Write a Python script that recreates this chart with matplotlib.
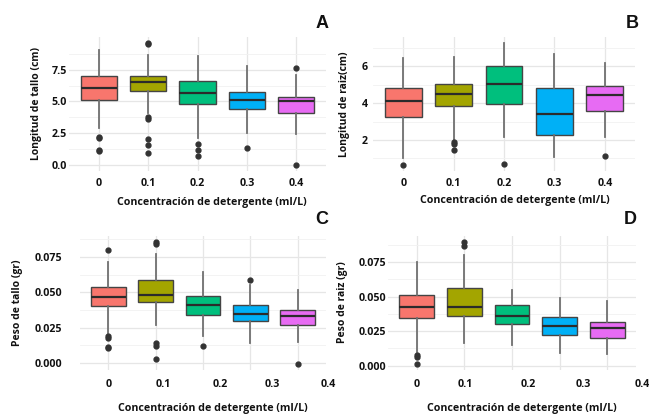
import matplotlib
matplotlib.use("Agg")
import matplotlib.pyplot as plt
import matplotlib.transforms as mtransforms

W, H = 649, 416

groups = ["0", "0.1", "0.2", "0.3", "0.4"]
colors = ["#F8766D", "#A3A500", "#00BF7D", "#00B0F6", "#E76BF3"]

# box stats per group: (whislo, q1, med, q3, whishi), outliers
tallo_len = [(2.9, 5.13, 6.1, 6.97, 9.07), (4.08, 5.84, 6.53, 7.02, 8.68),
             (2.1, 4.79, 5.63, 6.63, 8.55), (2.55, 4.4, 5.08, 5.74, 7.81),
             (2.45, 4.08, 5.0, 5.34, 7.1)]
tallo_len_out = [[2.23, 2.15, 1.18, 1.1], [9.6, 9.52, 3.76, 3.58, 2.03, 1.53, 0.92],
                 [1.66, 1.18, 0.74], [1.31], [7.6, 0.0]]

raiz_len = [(1.04, 3.24, 4.13, 4.82, 6.45), (2.0, 3.82, 4.51, 5.02, 6.51),
            (2.18, 3.93, 5.07, 6.0, 7.27), (1.09, 2.27, 3.4, 4.82, 6.69),
            (2.18, 3.55, 4.45, 4.96, 6.18)]
raiz_len_out = [[0.64], [1.91, 1.78, 1.45], [0.69], [], [1.15]]

tallo_peso = [(0.0211, 0.0405, 0.0469, 0.0539, 0.0715), (0.0269, 0.0429, 0.0485, 0.0586, 0.0773),
              (0.0195, 0.034, 0.0412, 0.0476, 0.0644), (0.0141, 0.030, 0.0347, 0.041, 0.0551),
              (0.0152, 0.0269, 0.033, 0.0375, 0.052)]
tallo_peso_out = [[0.0797, 0.0192, 0.0176, 0.0117, 0.0105], [0.0855, 0.0839, 0.0141, 0.0124, 0.0028],
                  [0.0122], [0.0586], [-0.0005]]

raiz_peso = [(0.0101, 0.0341, 0.0425, 0.0514, 0.075), (0.0166, 0.0358, 0.0425, 0.0558, 0.0798),
             (0.0149, 0.0298, 0.0361, 0.0438, 0.055), (0.0089, 0.0221, 0.0288, 0.0349, 0.049),
             (0.0084, 0.0197, 0.0274, 0.0313, 0.0466)]
raiz_peso_out = [[0.0077, 0.006, 0.0012], [0.0894, 0.0865], [], [], []]

xlab = "Concentración de detergente (ml/L)"
FONT = "Open Sans"


def px(x0, y0, x1, y1):
    return [x0 / W, 1 - y1 / H, (x1 - x0) / W, (y1 - y0) / H]


def draw_panel(ax, stats, outs, ylim, yticks, yminor, ylabels):
    bx = []
    for s, o in zip(stats, outs):
        bx.append(dict(whislo=s[0], q1=s[1], med=s[2], q3=s[3], whishi=s[4], fliers=o))
    pos = list(range(len(stats)))
    res = ax.bxp(bx, positions=pos, widths=0.73, patch_artist=True, showcaps=False,
                 boxprops=dict(edgecolor="#444444", linewidth=1.0),
                 medianprops=dict(color="#2b2b2b", linewidth=1.6),
                 whiskerprops=dict(color="#707070", linewidth=1.3),
                 flierprops=dict(marker="o", markersize=3.5, markerfacecolor="#333333",
                                 markeredgecolor="#333333"))
    for patch, c in zip(res["boxes"], colors):
        patch.set_facecolor(c)
        patch.set_zorder(3)
    for k in ["medians", "whiskers", "fliers"]:
        for a in res[k]:
            a.set_zorder(3 if k != "medians" else 4)
    ax.set_xlim(-0.6, 4.6)
    ax.set_ylim(*ylim)
    ax.set_yticks(yticks)
    ax.set_yticklabels(ylabels)
    ax.set_yticks(yminor, minor=True)
    ax.set_xticks(pos)
    ax.grid(True, which="major", color="#e6e6e6", linewidth=0.9, zorder=0)
    ax.grid(True, which="minor", axis="y", color="#f1f1f1", linewidth=0.6, zorder=0)
    ax.set_axisbelow(True)
    for sp in ax.spines.values():
        sp.set_visible(False)
    ax.tick_params(length=0, which="both", labelsize=7.7)
    for t in ax.get_yticklabels() + ax.get_xticklabels():
        t.set_fontfamily(FONT)
        t.set_fontweight("bold")
        t.set_color("#111111")


fig = plt.figure(figsize=(W / 100, H / 100), dpi=100)

axA = fig.add_axes(px(69, 37, 326, 171))
draw_panel(axA, tallo_len, tallo_len_out, (-0.48, 10.08), [0, 2.5, 5, 7.5],
           [1.25, 3.75, 6.25, 8.75], ["0.0", "2.5", "5.0", "7.5"])
axA.set_xticklabels(groups)
axA.tick_params(axis="y", pad=1.5)
axA.tick_params(axis="x", pad=5)

axB = fig.add_axes(px(373, 37, 635, 171))
draw_panel(axB, raiz_len, raiz_len_out, (0.31, 7.6), [2, 4, 6], [1, 3, 5, 7], ["2", "4", "6"])
axB.set_xticklabels(groups)
axB.tick_params(axis="y", pad=4)
axB.tick_params(axis="x", pad=5)

axC = fig.add_axes(px(80, 236, 326, 370))
draw_panel(axC, tallo_peso, tallo_peso_out, (-0.0048, 0.0898), [0, 0.025, 0.05, 0.075],
           [0.0125, 0.0375, 0.0625, 0.0875], ["0.000", "0.025", "0.050", "0.075"])
axC.set_xticklabels([])
axC.tick_params(axis="y", pad=13)

axD = fig.add_axes(px(388, 236, 636, 370))
draw_panel(axD, raiz_peso, raiz_peso_out, (-0.0032, 0.0938), [0, 0.025, 0.05, 0.075],
           [0.0125, 0.0375, 0.0625, 0.0875], ["0.000", "0.025", "0.050", "0.075"])
axD.set_xticklabels([])
axD.tick_params(axis="y", pad=1.5)

# shifted tick labels on the bottom panels
c_label_pos = [0, 1.16, 2.37, 3.47, 4.65]
d_label_pos = [0, 1.03, 2.34, 3.49, 4.74]
for ax, lp in [(axC, c_label_pos), (axD, d_label_pos)]:
    tr = mtransforms.blended_transform_factory(ax.transData, ax.transAxes)
    for p, g in zip(lp, groups):
        ax.text(p, -0.11, g, transform=tr, ha="center", va="center", fontsize=7.7,
                fontfamily=FONT, fontweight="bold", color="#111111", clip_on=False)


def ftext(x, y, s, **kw):
    fig.text(x / W, 1 - y / H, s, ha="center", va="center", fontfamily=FONT,
             fontweight="bold", color="#111111", **kw)


ftext(212, 202, xlab, fontsize=7.7)
ftext(515, 201, xlab, fontsize=7.7)
ftext(213, 408, xlab, fontsize=7.7)
ftext(522, 409, xlab, fontsize=7.7)

ftext(37, 104, "Longitud de tallo (cm)", fontsize=7.5, rotation=90)
ftext(345, 104, "Longitud de raiz(cm)", fontsize=7.5, rotation=90)
ftext(18, 303, "Peso de tallo (gr)", fontsize=7.5, rotation=90)
ftext(342, 302, "Peso de raiz (gr)", fontsize=7.5, rotation=90)

for x, y, s in [(322, 23, "A"), (632, 23, "B"), (322, 219, "C"), (630, 220, "D")]:
    fig.text(x / W, 1 - y / H, s, ha="center", va="center", fontsize=13,
             fontfamily="Liberation Sans", fontweight="bold", color="#111111")

fig.savefig("out.png", dpi=100)
